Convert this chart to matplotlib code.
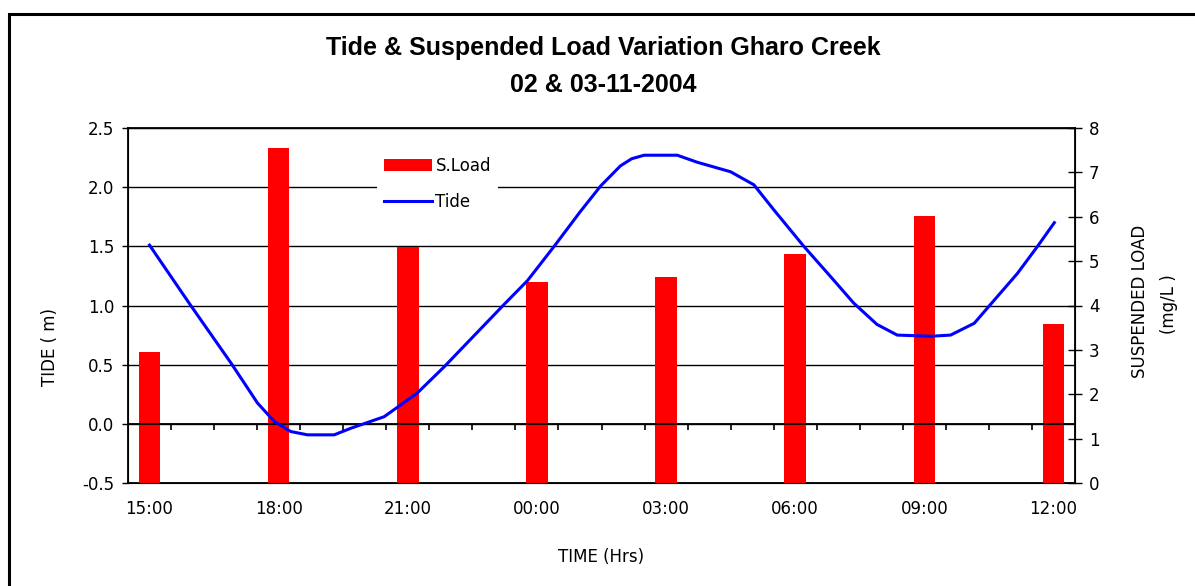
import matplotlib
matplotlib.use("Agg")
import matplotlib.pyplot as plt
import numpy as np
from matplotlib.patches import Rectangle
from matplotlib.ticker import FormatStrFormatter, MultipleLocator

# sampling times (every 3 hrs) and suspended load (mg/L)
time_labels = ['15:00', '18:00', '21:00', '00:00', '03:00', '06:00', '09:00', '12:00']
sload = [2.96, 7.56, 5.32, 4.54, 4.64, 5.15, 6.02, 3.58]

# tide curve, hours after 15:00 and level (m)
tide_hours = [0, 0.92, 1.9, 2.51, 2.9, 3.28, 3.67, 4.29, 4.68, 5.45, 6.22, 6.84,
              7.5, 8.24, 8.78, 9.4, 10.0, 10.48, 10.94, 11.2, 11.49, 12.26, 12.73, 13.5,
              14.04, 14.5, 15.2, 15.82, 16.36, 16.9, 17.37, 18.15, 18.61, 19.16, 19.54,
              20.16, 20.63, 21.02]
tide_m = [1.51, 1.02, 0.51, 0.175, 0.02, -0.065, -0.093, -0.093, -0.037, 0.06, 0.26, 0.48,
          0.73, 1.01, 1.21, 1.50, 1.79, 2.01, 2.18, 2.24, 2.27, 2.27, 2.21, 2.13,
          2.02, 1.81, 1.50, 1.245, 1.02, 0.84, 0.75, 0.74, 0.75, 0.85, 1.01,
          1.27, 1.50, 1.70]

bar_x = np.arange(len(time_labels)) * 3

fig = plt.figure(figsize=(11.95, 5.86), dpi=100)
ax = fig.add_axes([128 / 1195, 1 - 483 / 586, 947 / 1195, 355 / 586])
ax2 = ax.twinx()

# left axis: tide, grid
ax.set_xlim(-0.5, 21.5)
ax.set_ylim(-0.5, 2.5)
ax.yaxis.set_major_locator(MultipleLocator(0.5))
ax.yaxis.set_major_formatter(FormatStrFormatter('%.1f'))
ax.grid(axis='y', color='black', lw=1.0)
ax.set_axisbelow(True)
ax.set_xticks(bar_x)
ax.set_xticklabels(time_labels)
ax.tick_params(axis='x', length=0, pad=12, labelsize=12)
ax.tick_params(axis='y', direction='out', length=4, width=1, pad=6, labelsize=12)
for s in ax.spines.values():
    s.set_linewidth(1.3)

# right axis: suspended load bars
ax2.set_ylim(0, 8)
ax2.yaxis.set_major_locator(MultipleLocator(1))
ax2.tick_params(axis='y', direction='inout', length=10, width=1, pad=5, labelsize=12)
bars = ax2.bar(bar_x, sload, width=0.5, color='#ff0000', label='S.Load', zorder=2)

# zero line, hourly ticks and tide curve drawn above the bars (left-axis coordinates)
ax2.plot([-0.5, 21.5], [0, 0], color='black', lw=1.3, transform=ax.transData, zorder=3)
ax2.vlines(np.arange(0.5, 21, 1), -0.055, 0, color='black', lw=1.2,
           transform=ax.transData, zorder=3)
line, = ax2.plot(tide_hours, tide_m, color='#0000ff', lw=2.2, label='Tide',
                 transform=ax.transData, zorder=4)
ax2.set_xlim(-0.5, 21.5)

leg = ax2.legend(handles=[bars, line], loc='upper left', bbox_to_anchor=(0.263, 0.938),
                 borderaxespad=0, borderpad=0.4, frameon=True, fancybox=False,
                 facecolor='white', edgecolor='none', framealpha=1, fontsize=12,
                 handlelength=2.9, handletextpad=0.2, labelspacing=1.1)
leg.set_zorder(5)

ax.set_xlabel('TIME (Hrs)', fontsize=12, labelpad=22)
fig.text(50 / 1195, 1 - 347 / 586, 'TIDE ( m)', rotation=90, ha='center', va='center',
         fontsize=12)
fig.text(1140 / 1195, 1 - 301 / 586, 'SUSPENDED LOAD', rotation=90, ha='center',
         va='center', fontsize=12)
fig.text(1169 / 1195, 1 - 304 / 586, '(mg/L )', rotation=90, ha='center', va='center',
         fontsize=12)

title_font = ['Liberation Sans', 'DejaVu Sans']
fig.text(0.505, 1 - 48 / 586, 'Tide & Suspended Load Variation Gharo Creek', ha='center',
         va='center', fontsize=18, fontweight='bold', family=title_font)
fig.text(0.505, 1 - 85 / 586, '02 & 03-11-2004', ha='center', va='center', fontsize=18,
         fontweight='bold', family=title_font)

# chart area border
fig.patches.append(Rectangle((9 / 1195, -0.5), 2, 1 - 13.5 / 586 + 0.5, fill=False,
                             lw=2.2, ec='black', transform=fig.transFigure))

fig.savefig('out.png', dpi=100)
